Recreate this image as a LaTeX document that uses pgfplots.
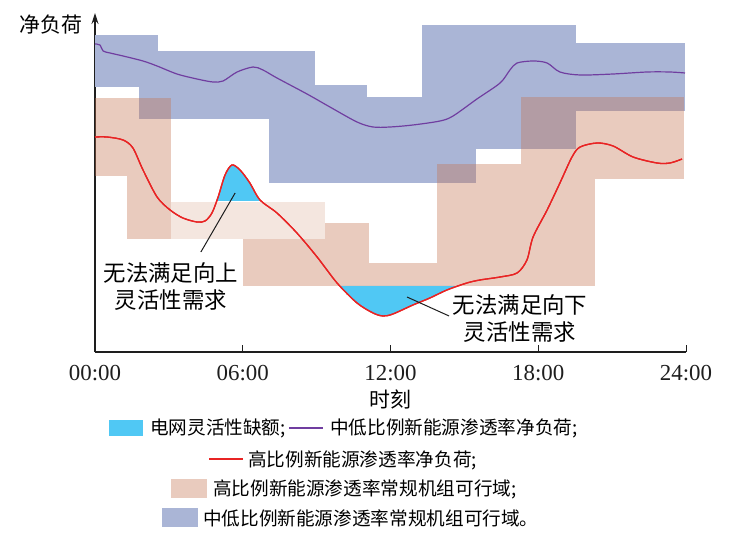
\documentclass[border=0pt]{standalone}
\usepackage{fontspec}
\setmainfont{Liberation Serif}
\newfontfamily\cjk{Noto Sans CJK SC}
\usepackage{pgfplots}
\pgfplotsset{compat=1.18}
\usepgfplotslibrary{fillbetween}
\usetikzlibrary{arrows.meta}
\definecolor{blueR}{RGB}{170,181,214}
\definecolor{salm}{RGB}{196,115,80}
\definecolor{gapc}{RGB}{80,200,244}
\definecolor{purp}{RGB}{112,62,160}
\definecolor{redc}{RGB}{232,36,36}
\definecolor{axc}{RGB}{30,30,30}
\newcommand{\rect}[5]{\addplot[#5] coordinates {(#1,#3) (#2,#3) (#2,#4) (#1,#4)};}
\begin{document}
\begin{tikzpicture}
\begin{axis}[
  at={(0,0)}, anchor=south west,
  scale only axis, width=591bp, height=339bp,
  xmin=0, xmax=24, ymin=0, ymax=339,
  clip=false,
  axis x line*=bottom, axis y line*=left,
  x axis line style={axc, line width=1.2bp},
  y axis line style={axc, line width=1.2bp, -{Stealth[length=11bp,width=7bp]}},
  ytick=\empty,
  xtick={0,6,12,18,24},
  xticklabels={00:00,06:00,12:00,18:00,24:00},
  tick align=inside,
  major tick length=7bp,
  tick style={axc, line width=1bp},
  xticklabel style={font=\fontsize{23}{23}\selectfont, text=axc, yshift=-10bp},
  xlabel={\cjk 时刻},
  every axis x label/.style={at={(axis description cs:0.5,0)}, anchor=center, yshift=-47bp, font=\fontsize{21}{21}\selectfont},
  ylabel={\cjk 净负荷},
  every axis y label/.style={at={(axis description cs:0,0.9646)}, anchor=east, xshift=-9bp, font=\fontsize{21}{21}\selectfont},
]
% --- 中低比例新能源渗透率常规机组可行域 (blue blocks)
\rect{0}{2.56}{265}{317}{fill=blueR, draw=none}
\rect{1.79}{8.93}{233}{301}{fill=blueR, draw=none}
\rect{7.07}{11.05}{169}{267}{fill=blueR, draw=none}
\rect{11.05}{15.47}{169}{255}{fill=blueR, draw=none}
\rect{13.28}{19.53}{203}{327}{fill=blueR, draw=none}
\rect{19.53}{23.96}{241}{309}{fill=blueR, draw=none}
% --- 高比例新能源渗透率常规机组可行域 (salmon blocks)
\rect{0}{3.09}{176}{254}{fill=salm, fill opacity=0.37, draw=none}
\rect{1.30}{3.09}{113}{176}{fill=salm, fill opacity=0.37, draw=none}
\rect{3.09}{9.34}{113}{150}{fill=salm, fill opacity=0.18, draw=none}
\rect{6.01}{11.13}{66}{113}{fill=salm, fill opacity=0.37, draw=none}
\rect{9.34}{11.13}{113}{129}{fill=salm, fill opacity=0.37, draw=none}
\rect{11.13}{20.31}{66}{89}{fill=salm, fill opacity=0.37, draw=none}
\rect{13.89}{20.31}{89}{188}{fill=salm, fill opacity=0.37, draw=none}
\rect{17.30}{20.31}{188}{255}{fill=salm, fill opacity=0.37, draw=none}
\rect{20.31}{23.92}{173}{255}{fill=salm, fill opacity=0.37, draw=none}
% --- reference levels for the gaps
\addplot[draw=none, name path=uplim] coordinates {(0,151) (24,151)};
\addplot[draw=none, name path=dnlim] coordinates {(0,66) (24,66)};
% --- 高比例新能源渗透率净负荷
\addplot[redc, line width=1.3bp, smooth, tension=0.5, name path=hi] coordinates {
(0,215) (0.49,215) (1.14,212) (1.54,204) (1.95,182) (2.52,155) (3.05,142)
(3.57,134) (4.14,130) (4.47,131) (4.75,139) (5.00,155) (5.28,177) (5.56,187)
(5.89,182) (6.29,169) (6.70,152) (7.39,139) (8.20,119) (9.02,95) (9.83,69)
(10.64,49) (11.29,39) (11.70,36) (12.10,38) (12.91,47) (13.60,54) (14.29,62)
(15.10,69) (15.63,72) (16.45,75) (17.14,79) (17.54,92) (17.79,115) (18.36,142)
(18.88,169) (19.37,195) (19.70,205) (20.39,209) (21.04,206) (21.85,195)
(22.82,189) (23.35,189) (23.84,193)};
% --- 电网灵活性缺额
\addplot[fill=gapc, draw=none] fill between[of=hi and uplim, soft clip={domain=4.94:6.75}];
\addplot[fill=gapc, draw=none] fill between[of=hi and dnlim, soft clip={domain=9.95:14.6}];
% --- redraw red curve on top
\addplot[redc, line width=1.3bp, smooth, tension=0.5] coordinates {
(0,215) (0.49,215) (1.14,212) (1.54,204) (1.95,182) (2.52,155) (3.05,142)
(3.57,134) (4.14,130) (4.47,131) (4.75,139) (5.00,155) (5.28,177) (5.56,187)
(5.89,182) (6.29,169) (6.70,152) (7.39,139) (8.20,119) (9.02,95) (9.83,69)
(10.64,49) (11.29,39) (11.70,36) (12.10,38) (12.91,47) (13.60,54) (14.29,62)
(15.10,69) (15.63,72) (16.45,75) (17.14,79) (17.54,92) (17.79,115) (18.36,142)
(18.88,169) (19.37,195) (19.70,205) (20.39,209) (21.04,206) (21.85,195)
(22.82,189) (23.35,189) (23.84,193)};
\addplot[purp, line width=1.2bp, smooth, tension=0.5] coordinates {
(0,308) (0.20,307) (0.33,301) (0.61,299) (1.14,296) (1.95,291) (2.52,286)
(3.33,278) (4.14,273) (4.79,270) (5.20,271) (5.77,280) (6.42,285) (6.82,282)
(7.39,274) (8.61,258) (9.54,245) (10.64,230) (11.29,225) (11.98,225)
(12.91,227) (14.01,231) (14.54,236) (15.51,253) (16.45,269) (16.85,282)
(17.14,289) (17.79,291) (18.36,289) (18.88,280) (19.70,277) (21.04,278)
(22.42,280) (23.35,280) (23.96,279)};
% --- annotations
\draw[axc, line width=1bp] (axis cs:5.69,159) -- (axis cs:4.30,100);
\draw[axc, line width=1bp] (axis cs:12.67,55) -- (axis cs:14.38,36);
\node[align=center, font=\fontsize{22.5}{27}\selectfont\cjk, inner sep=0] at (axis cs:3.08,65.5) {无法满足向上\\灵活性需求};
\node[align=center, font=\fontsize{22.5}{27}\selectfont\cjk, inner sep=0] at (axis cs:17.26,33.5) {无法满足向下\\灵活性需求};
\end{axis}
% --- legend
\begin{scope}[every node/.style={anchor=west, inner sep=0, font=\fontsize{18.7}{20}\selectfont\cjk}]
\fill[gapc] (14bp,-84bp) rectangle (48bp,-68bp);
\node at (55bp,-76bp) {电网灵活性缺额;};
\draw[purp, line width=1.4bp] (194bp,-76bp) -- (228bp,-76bp);
\node at (235bp,-76bp) {中低比例新能源渗透率净负荷;};
\draw[redc, line width=1.4bp] (114bp,-107bp) -- (148bp,-107bp);
\node at (153bp,-108bp) {高比例新能源渗透率净负荷;};
\fill[salm, fill opacity=0.37] (76bp,-146bp) rectangle (112bp,-127bp);
\node at (118bp,-137bp) {高比例新能源渗透率常规机组可行域;};
\fill[blueR] (67bp,-175bp) rectangle (103bp,-156bp);
\node at (108bp,-166bp) {中低比例新能源渗透率常规机组可行域。};
\end{scope}
\pgfresetboundingbox
\path[use as bounding box] (-95bp,-188bp) rectangle (648bp,352bp);
\end{tikzpicture}
\end{document}
